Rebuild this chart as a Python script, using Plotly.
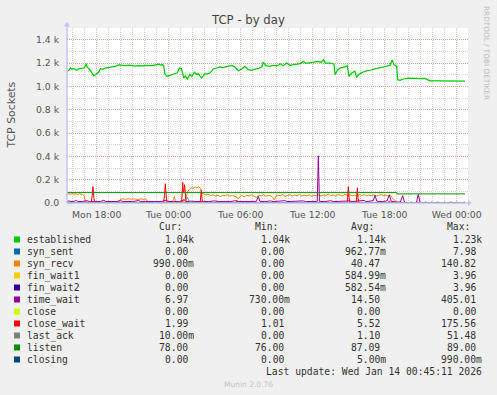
import pandas as pd
import plotly.graph_objects as go

BASE = pd.Timestamp("2026-01-12 00:00")  # Monday

# ---- data: (hours since Mon 00:00, value) ----
established = [(15.53,1129),(15.7,1140),(15.81,1157),(15.95,1148),(16.09,1151),(16.22,1145),(16.36,1137),(16.5,1150),
 (16.64,1151),(16.8,1155),(16.92,1157),(17.06,1177),(17.14,1194),(17.2,1165),(17.25,1157),(17.36,1150),(17.47,1137),
 (17.6,1110),(17.75,1091),(17.9,1100),(18.03,1114),(18.15,1120),(18.31,1151),(18.5,1145),(18.72,1157),(19.0,1160),
 (19.28,1166),(19.55,1172),(19.83,1183),(20.1,1180),(20.39,1177),(20.7,1181),(20.95,1177),(21.2,1174),(21.5,1177),
 (21.8,1175),(22.06,1180),(22.35,1178),(22.61,1177),(22.9,1183),(23.17,1189),(23.3,1182),(23.45,1186),(23.58,1180),
 (23.67,1109),(23.86,1086),(24.05,1095),(24.28,1100),(24.5,1108),(24.7,1114),(24.89,1157),(25.06,1150),(25.15,1120),
 (25.25,1071),(25.39,1090),(25.56,1063),(25.75,1100),(25.94,1086),(26.14,1120),(26.36,1100),(26.45,1110),(26.6,1086),
 (26.75,1071),(27.02,1109),(27.2,1105),(27.44,1114),(27.72,1149),(28.0,1157),(28.27,1166),(28.5,1160),(28.69,1166),
 (28.97,1172),(29.25,1180),(29.52,1166),(29.8,1134),(30.08,1149),(30.36,1171),(30.63,1143),(30.91,1137),(31.1,1145),
 (31.33,1149),(31.55,1155),(31.75,1166),(31.89,1206),(32.08,1177),(32.25,1174),(32.44,1171),(32.65,1180),(32.86,1180),
 (33.05,1175),(33.27,1194),(33.55,1177),(33.83,1200),(34.1,1180),(34.3,1183),(34.52,1186),(34.75,1190),(34.94,1194),
 (35.22,1214),(35.4,1200),(35.63,1200),(35.85,1205),(36.05,1209),(36.25,1212),(36.47,1214),(36.7,1205),(36.9,1229),
 (37.05,1200),(37.2,1203),(37.35,1200),(37.5,1200),(37.65,1194),(37.78,1190),(37.86,1100),(38.05,1137),(38.27,1157),
 (38.5,1160),(38.69,1166),(38.88,1177),(39.02,1086),(39.25,1114),(39.52,1129),(39.66,1080),(39.94,1109),(40.22,1123),
 (40.4,1130),(40.63,1137),(40.85,1140),(41.05,1149),(41.25,1152),(41.47,1157),(41.7,1160),(41.88,1166),(42.1,1170),
 (42.3,1177),(42.45,1180),(42.62,1226),(42.77,1186),(43.0,1171),(43.08,1057),(43.27,1051),(43.55,1063),(43.97,1071),
 (44.3,1068),(44.66,1068),(45.0,1066),(45.36,1068),(45.5,1063),(45.77,1047),(46.5,1046),(47.5,1046),(48.69,1045)]

syn_sent = [(15.53,0),(19.9,0),(20.0,2),(20.1,0),(25.9,0),(26.0,8),(26.1,0),(30.0,1),(36.0,2),(36.1,0),(48.69,0)]

syn_recv = [(15.53,72),(15.65,80),(15.8,74),(15.95,82),(16.1,75),(16.25,79),(16.4,72),(16.55,80),(16.7,76),(16.85,72),
 (16.95,62),(17.05,12),(17.3,6),(17.6,9),(18.0,5),(18.5,8),(19.0,6),(19.5,9),(19.85,10),(19.95,30),(20.15,36),(20.4,31),
 (20.65,37),(20.9,32),(21.15,36),(21.4,30),(21.65,35),(21.9,31),(22.1,36),(22.25,8),(22.6,5),(23.0,6),(23.4,4),(23.8,7),
 (24.3,5),(24.4,30),(24.47,55),(24.55,20),(24.65,5),(25.0,6),(25.3,18),(25.45,50),(25.6,100),(25.75,122),(25.9,130),
 (26.05,126),(26.2,138),(26.35,128),(26.5,141),(26.65,125),(26.75,86),(26.9,78),(27.1,70),(27.3,74),(27.5,64),(27.7,70),
 (27.9,60),(28.1,68),(28.3,55),(28.5,66),(28.7,62),(28.9,70),(29.1,58),(29.3,66),(29.5,60),(29.65,52),(29.8,35),(29.95,58),
 (30.1,64),(30.3,52),(30.5,66),(30.7,60),(30.9,70),(31.1,62),(31.3,48),(31.5,68),(31.7,60),(31.9,72),(32.1,58),(32.3,66),
 (32.5,62),(32.65,50),(32.8,26),(32.95,60),(33.1,68),(33.3,62),(33.5,72),(33.7,58),(33.9,66),(34.1,70),(34.3,60),(34.5,68),
 (34.7,62),(34.9,74),(35.1,60),(35.3,66),(35.5,62),(35.7,70),(35.9,58),(36.1,66),(36.3,62),(36.5,70),(36.7,60),(36.9,68),
 (37.1,64),(37.3,76),(37.5,62),(37.7,70),(37.9,60),(38.1,72),(38.3,66),(38.5,60),(38.7,74),(38.9,64),(39.1,70),(39.3,62),
 (39.5,68),(39.7,58),(39.9,72),(40.1,64),(40.3,70),(40.5,60),(40.7,68),(40.9,62),(41.1,70),(41.3,60),(41.5,66),(41.7,72),
 (41.9,62),(42.1,68),(42.3,60),(42.5,64),(42.65,40),(42.8,30),(42.95,5),(43.2,2),(44.0,1),(46.0,1),(48.69,1)]

fin_wait1 = [(15.53,0),(25.4,0),(25.5,4),(25.6,0),(36.4,0),(36.5,3),(36.6,0),(48.69,0)]
fin_wait2 = [(15.53,0),(25.4,0),(25.5,4),(25.6,0),(36.4,0),(36.5,3),(36.6,0),(48.69,0)]

time_wait = [(15.53,12),(15.7,18),(15.85,12),(16.1,14),(16.3,22),(16.45,12),(16.8,13),(17.2,20),(17.4,12),(17.9,14),
 (18.3,12),(18.6,24),(18.75,12),(19.2,13),(19.6,12),(20.0,20),(20.15,12),(20.6,13),(21.0,12),(21.5,22),(21.65,12),
 (22.1,13),(22.6,12),(23.0,15),(23.4,12),(23.8,25),(23.95,12),(24.4,14),(24.9,12),(25.3,28),(25.45,12),(25.9,16),
 (26.3,12),(26.9,14),(27.3,12),(27.8,18),(28.2,12),(28.7,14),(29.1,12),(29.6,20),(29.8,12),(30.3,13),(30.8,12),
 (31.3,14),(31.47,57),(31.6,14),(32.0,12),(32.5,18),(32.7,12),(33.2,13),(33.7,20),(33.85,12),(34.3,14),(34.8,12),
 (35.2,18),(35.4,12),(35.9,13),(36.38,14),(36.47,405),(36.56,14),(37.0,12),(37.5,20),(37.7,12),(38.2,14),(38.6,12),
 (39.1,18),(39.3,12),(39.8,14),(40.3,22),(40.45,12),(40.8,14),(41.05,20),(41.19,65),(41.35,15),(41.8,12),(42.2,18),
 (42.38,71),(42.55,14),(42.9,10),(43.3,8),(43.5,63),(43.65,6),(44.0,0),(44.2,7),(44.5,0),(44.65,8),(44.8,74),(44.95,6),
 (45.2,0),(45.4,8),(45.7,0),(45.9,7),(46.2,0),(46.4,8),(46.7,0),(47.0,7),(47.3,0),(47.5,8),(47.8,0),(48.0,7),(48.3,0),
 (48.5,7),(48.69,7)]

close = [(15.53,0),(48.69,0)]

close_wait = [(15.53,4),(17.55,4),(17.62,60),(17.69,140),(17.76,50),(17.83,4),(20.0,5),(23.58,4),(23.65,70),(23.72,165),
 (23.79,60),(23.86,5),(25.08,5),(25.13,80),(25.17,176),(25.22,90),(25.27,100),(25.32,157),(25.38,60),(25.45,5),
 (26.62,5),(26.67,50),(26.72,110),(26.77,40),(26.83,5),(29.6,4),(29.7,20),(29.8,4),(33.0,5),(36.8,4),(36.9,15),(37.0,4),
 (38.88,5),(38.93,70),(38.97,140),(39.02,60),(39.08,5),(39.63,5),(39.68,60),(39.72,130),(39.77,50),(39.83,5),
 (42.3,4),(42.4,18),(42.5,4),(43.0,2),(48.69,2)]

last_ack = [(15.53,0),(25.35,0),(25.45,35),(25.55,50),(25.65,30),(25.75,0),(48.69,0)]

listen = [(15.53,89),(43.0,89),(43.02,78),(48.69,78)]

closing = [(15.53,0),(30.9,0),(31.0,1),(31.1,0),(48.69,0)]

series_names = ["established","syn_sent","syn_recv","fin_wait1","fin_wait2","time_wait",
                "close","close_wait","last_ack","listen","closing"]
series_data = [established, syn_sent, syn_recv, fin_wait1, fin_wait2, time_wait,
               close, close_wait, last_ack, listen, closing]
series_colors = ["#00CC00","#0066B3","#FF8000","#FFCC00","#330099","#990099",
                 "#CCFF00","#FF0000","#808080","#008F00","#00487D"]

cur_vals = ["1.04k","0.00","990.00m","0.00","0.00","6.97","0.00","1.99","10.00m","78.00","0.00"]
min_vals = ["1.04k","0.00","0.00","0.00","0.00","730.00m","0.00","1.01","0.00","76.00","0.00"]
avg_vals = ["1.14k","962.77m","40.47","584.99m","582.54m","14.50","0.00","5.52","1.10","87.09","5.00m"]
max_vals = ["1.23k","7.98","140.82","3.96","3.96","405.01","0.00","175.56","51.48","89.00","990.00m"]

x_tick_hours = [18, 21, 24, 27, 30, 33, 36, 39, 42, 45, 48]
x_minor_hours = [h for h in range(16, 49) if h % 3 != 0]
y_tick_vals = [0, 200, 400, 600, 800, 1000, 1200, 1400]
y_tick_text = ["0.0", "0.2 k", "0.4 k", "0.6 k", "0.8 k", "1.0 k", "1.2 k", "1.4 k"]


def to_time(hours):
    return [BASE + pd.Timedelta(hours=h) for h in hours]


def day_label(h):
    days = ["Mon", "Tue", "Wed"]
    d = int(h // 24)
    return f"{days[d]} {int(h % 24):02d}:00"


fig = go.Figure()
for name, data, col in zip(series_names, series_data, series_colors):
    hs = [p[0] for p in data]
    vs = [p[1] for p in data]
    fig.add_trace(go.Scatter(x=to_time(hs), y=vs, mode="lines", name=name,
                             line=dict(color=col, width=1.25 if name == "established" else 1),
                             showlegend=False, hoverinfo="skip"))

# geometry helpers (pixel -> paper)
W, H = 497, 395
L, R, T, B = 67, 29, 28, 192
PW, PH = W - L - R, H - T - B


def px(x):
    return (x - L) / PW


def py(y):
    return (H - B - y) / PH


MONO = "DejaVu Sans Mono"
SANS = "DejaVu Sans"
TXT = "#333333"

shapes = []
annotations = []

# axis lines + arrows
AX = "#C4C4F2"
shapes.append(dict(type="line", xref="paper", yref="paper", x0=px(67), x1=px(469), y0=py(203), y1=py(203),
                   line=dict(color=AX, width=1.5), layer="above"))
shapes.append(dict(type="line", xref="paper", yref="paper", x0=px(67), x1=px(67), y0=py(203), y1=py(25),
                   line=dict(color=AX, width=1.5), layer="above"))
shapes.append(dict(type="path", xref="paper", yref="paper", layer="above",
                   path=f"M {px(468)} {py(200)} L {px(472)} {py(203)} L {px(468)} {py(206)} Z",
                   fillcolor=AX, line=dict(width=0)))
shapes.append(dict(type="path", xref="paper", yref="paper", layer="above",
                   path=f"M {px(64)} {py(26.5)} L {px(67)} {py(21.5)} L {px(70)} {py(26.5)} Z",
                   fillcolor=AX, line=dict(width=0)))

# title and side texts
annotations.append(dict(text="TCP - by day", xref="paper", yref="paper", x=px(248), y=py(19.5),
                        showarrow=False, font=dict(family=SANS, size=11.7, color="#444444"),
                        xanchor="center", yanchor="middle"))
annotations.append(dict(text="TCP Sockets", xref="paper", yref="paper", x=px(10.5), y=py(115),
                        showarrow=False, textangle=-90, font=dict(family=SANS, size=10.9, color="#555555"),
                        xanchor="center", yanchor="middle"))
annotations.append(dict(text="RRDTOOL / TOBI OETIKER", xref="paper", yref="paper", x=px(487), y=py(53),
                        showarrow=False, textangle=90, font=dict(family=SANS, size=7.3, color="#BDBDBD"),
                        xanchor="center", yanchor="middle"))

# legend table
CW = 5.84
col_right = [194, 290, 386, 482.3]
headers = ["Cur:", "Min:", "Avg:", "Max:"]
header_x = [170, 266, 362.5, 458.5]
FS = 9.7
for hx, ht in zip(header_x, headers):
    annotations.append(dict(text=ht, xref="paper", yref="paper", x=px(hx), y=py(226.7), showarrow=False,
                            font=dict(family=MONO, size=FS, color=TXT), xanchor="center", yanchor="middle",
                            borderpad=0, borderwidth=0))

row_y0, row_dy = 239.5, 12.0
for i, (name, col) in enumerate(zip(series_names, series_colors)):
    yy = row_y0 + i * row_dy
    shapes.append(dict(type="rect", xref="paper", yref="paper", x0=px(14), x1=px(20), y0=py(yy + 3), y1=py(yy - 3),
                       fillcolor=col, line=dict(width=0), layer="above"))
    annotations.append(dict(text=name, xref="paper", yref="paper", x=px(26.5), y=py(yy), showarrow=False,
                            font=dict(family=MONO, size=FS, color=TXT), xanchor="left", yanchor="middle",
                            borderpad=0, borderwidth=0))
    for cr, vals in zip(col_right, [cur_vals, min_vals, avg_vals, max_vals]):
        v = vals[i]
        xr = cr if v[-1].isalpha() else cr - CW
        annotations.append(dict(text=v, xref="paper", yref="paper", x=px(xr), y=py(yy), showarrow=False,
                                font=dict(family=MONO, size=FS, color=TXT), xanchor="right", yanchor="middle",
                                borderpad=0, borderwidth=0))

annotations.append(dict(text="Last update: Wed Jan 14 00:45:11 2026", xref="paper", yref="paper",
                        x=px(482.3), y=py(371.5), showarrow=False, font=dict(family=MONO, size=FS, color=TXT),
                        xanchor="right", yanchor="middle", borderpad=0, borderwidth=0))
annotations.append(dict(text="Munin 2.0.76", xref="paper", yref="paper", x=px(248), y=py(384),
                        showarrow=False, font=dict(family=SANS, size=7.5, color="#C4C4C4"),
                        xanchor="center", yanchor="middle"))

MAJ = "rgba(235,90,90,0.42)"
MIN = "rgba(150,150,150,0.42)"

fig.update_layout(
    width=W, height=H, autosize=False,
    margin=dict(l=L, r=R, t=T, b=B, pad=0),
    paper_bgcolor="#F0F0F0", plot_bgcolor="#FFFFFF",
    showlegend=False,
    shapes=shapes, annotations=annotations,
    xaxis=dict(
        type="date",
        range=[BASE + pd.Timedelta(hours=15.525), BASE + pd.Timedelta(hours=48.942)],
        tickmode="array",
        tickvals=to_time(x_tick_hours),
        ticktext=[day_label(h) if h % 6 == 0 else "" for h in x_tick_hours],
        showgrid=True, gridcolor=MAJ, griddash="1px,1px", gridwidth=1,
        minor=dict(tickmode="array", tickvals=to_time(x_minor_hours), showgrid=True,
                   gridcolor=MIN, griddash="1px,1px", gridwidth=1),
        zeroline=False, showline=False,
        ticks="outside", ticklen=3, tickcolor="rgba(0,0,0,0)",
        tickfont=dict(family=SANS, size=9.3, color="#555555"),
        fixedrange=True,
    ),
    yaxis=dict(
        range=[0, 1500],
        tickmode="array", tickvals=y_tick_vals, ticktext=y_tick_text,
        showgrid=True, gridcolor=MAJ, griddash="1px,1px", gridwidth=1,
        minor=dict(dtick=100, tick0=0, showgrid=True, gridcolor=MIN, griddash="1px,1px", gridwidth=1),
        zeroline=False, showline=False,
        ticks="outside", ticklen=5, tickcolor="rgba(0,0,0,0)",
        tickfont=dict(family=SANS, size=9.3, color="#555555"),
        fixedrange=True,
    ),
)

fig.write_html("out.html",
               config={"displayModeBar": False, "staticPlot": True},
               post_script="document.body.style.margin='0';document.body.style.background='#F0F0F0';")
